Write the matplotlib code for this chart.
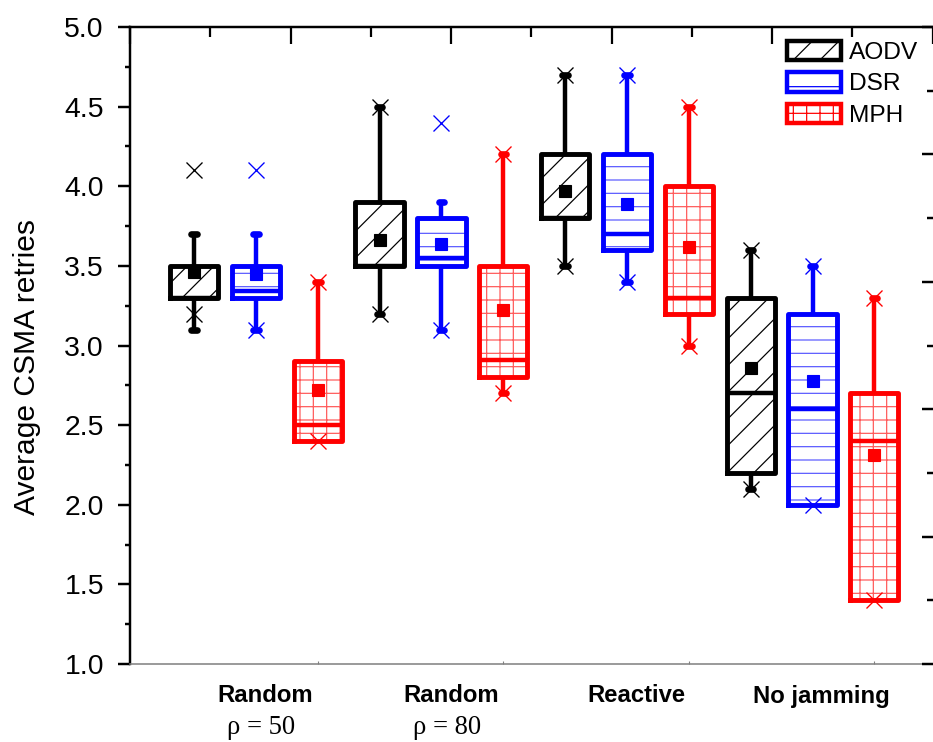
import matplotlib
matplotlib.use('Agg')
import matplotlib.pyplot as plt
from matplotlib.patches import Patch
from matplotlib.ticker import MultipleLocator, FixedLocator, NullFormatter
from matplotlib import font_manager
import matplotlib.transforms as mtransforms

# ---------------- data ----------------
groups = ['Random', 'Random', 'Reactive', 'No jamming']
group_sub = ['\u03c1 = 50', '\u03c1 = 80', '', '']
protocols = ['AODV', 'DSR', 'MPH']

# rows: AODV, DSR, MPH ; columns: the four scenarios
whis_lo = [[3.1, 3.2, 3.5, 2.1],
           [3.1, 3.1, 3.4, 2.0],
           [2.4, 2.7, 3.0, 1.4]]
whis_hi = [[3.7, 4.5, 4.7, 3.6],
           [3.7, 3.9, 4.7, 3.5],
           [3.4, 4.2, 4.5, 3.3]]
q1 = [[3.3, 3.5, 3.8, 2.2],
      [3.3, 3.5, 3.6, 2.0],
      [2.4, 2.8, 3.2, 1.4]]
q3 = [[3.5, 3.9, 4.2, 3.3],
      [3.5, 3.8, 4.2, 3.2],
      [2.9, 3.5, 4.0, 2.7]]
median = [[3.3, 3.5, 3.8, 2.7],
          [3.34, 3.55, 3.7, 2.6],
          [2.5, 2.91, 3.3, 2.4]]
mean = [[3.46, 3.66, 3.97, 2.86],
        [3.45, 3.64, 3.89, 2.78],
        [2.72, 3.22, 3.62, 2.31]]
pct_lo = [[3.2, 3.2, 3.5, 2.1],
          [3.1, 3.1, 3.4, 2.0],
          [2.4, 2.7, 3.0, 1.4]]
pct_hi = [[4.1, 4.5, 4.7, 3.6],
          [4.1, 4.4, 4.7, 3.5],
          [3.4, 4.2, 4.5, 3.3]]

# ---------------- style ----------------
colors = ['black', '#0000ff', '#ff0000']
hatch_colors = ['black', '#5a5aff', '#ff5a5a']
hatches = ['/', '-', '+']

W, H, DPI = 933, 742, 80
plt.rcParams['font.family'] = ['Liberation Sans', 'DejaVu Sans']
plt.rcParams['hatch.linewidth'] = 1.1

fig = plt.figure(figsize=(W / DPI, H / DPI), dpi=DPI)
L, R, T, B = 130, 932.5, 27, 664
ax = fig.add_axes([L / W, 1 - B / H, (R - L) / W, (B - T) / H])
ax.set_xlim(-0.036, 12.94)
ax.set_ylim(1.0, 5.0)

box_w = 0.78
for s, prot in enumerate(protocols):
    c = colors[s]
    pos = [g * 3 + s + 1 for g in range(len(groups))]
    stats = []
    for g in range(len(groups)):
        stats.append(dict(med=median[s][g], q1=q1[s][g], q3=q3[s][g],
                          whislo=whis_lo[s][g], whishi=whis_hi[s][g],
                          mean=mean[s][g], fliers=[pct_lo[s][g], pct_hi[s][g]]))
    # hatched fill
    ax.bxp(stats, positions=pos, widths=box_w, patch_artist=True,
           showmeans=False, showcaps=False, showfliers=False,
           boxprops=dict(facecolor='white', edgecolor=hatch_colors[s],
                         linewidth=0, hatch=hatches[s]),
           whiskerprops=dict(linewidth=0), medianprops=dict(linewidth=0),
           manage_ticks=False)
    # outlines, whiskers, medians, means, 1%/99% marks
    art = ax.bxp(stats, positions=pos, widths=box_w, patch_artist=False,
                 showmeans=True, showcaps=True, showfliers=True, capwidths=0.09,
                 boxprops=dict(color=c, linewidth=4.4),
                 whiskerprops=dict(color=c, linewidth=4.0, solid_capstyle='butt'),
                 capprops=dict(color=c, linewidth=6.0, solid_capstyle='round'),
                 medianprops=dict(color=c, linewidth=4.0),
                 meanprops=dict(marker='s', markerfacecolor=c, markeredgecolor=c,
                                markersize=10.5, linestyle='none'),
                 flierprops=dict(marker='x', markeredgecolor=c, markerfacecolor=c,
                                 markersize=14, markeredgewidth=1.2, linestyle='none'),
                 manage_ticks=False)
    for g in range(len(groups)):
        if whis_lo[s][g] >= q1[s][g]:
            art['caps'][2 * g].set_visible(False)
        if whis_hi[s][g] <= q3[s][g]:
            art['caps'][2 * g + 1].set_visible(False)

# ---------------- axes styling ----------------
ax.spines['right'].set_visible(False)
ax.spines['left'].set_linewidth(2.2)
ax.spines['top'].set_linewidth(2.2)
ax.spines['bottom'].set_color('#808080')
ax.spines['bottom'].set_linewidth(1.4)

ax.yaxis.set_major_locator(MultipleLocator(0.5))
ax.yaxis.set_minor_locator(MultipleLocator(0.25))
ax.tick_params(axis='y', which='major', direction='out', length=10.5, width=2.2,
               labelsize=25.5, pad=13)
ax.tick_params(axis='y', which='minor', direction='out', length=4.5, width=2.2)
ax.yaxis.set_major_formatter(matplotlib.ticker.FormatStrFormatter('%.1f'))

ax.xaxis.set_major_locator(FixedLocator([3, 6, 9, 12]))
ax.xaxis.set_major_formatter(NullFormatter())
ax.tick_params(axis='x', which='major', direction='in', length=3, width=1,
               color='#808080', top=False)

# top secondary ticks
axt = ax.twiny()
axt.set_xlim(0, 10)
axt.xaxis.set_major_locator(MultipleLocator(2))
axt.xaxis.set_minor_locator(MultipleLocator(1))
axt.tick_params(axis='x', which='both', direction='in', top=True, bottom=False,
                labeltop=False, labelbottom=False, width=2.0)
axt.tick_params(axis='x', which='major', length=15)
axt.tick_params(axis='x', which='minor', length=9)
for sp in axt.spines.values():
    sp.set_visible(False)

# right secondary ticks
axr = ax.twinx()
axr.set_ylim(0, 5)
axr.yaxis.set_major_locator(MultipleLocator(1))
axr.yaxis.set_minor_locator(MultipleLocator(0.5))
axr.tick_params(axis='y', which='both', direction='in', right=True, left=False,
                labelright=False, labelleft=False, width=2.2)
axr.tick_params(axis='y', which='major', length=10)
axr.tick_params(axis='y', which='minor', length=5)
for sp in axr.spines.values():
    sp.set_visible(False)

# y label
fig.text(27 / W, 1 - 367 / H, 'Average CSMA retries', rotation=90,
         ha='center', va='center', fontsize=27)

# category labels
names = {f.name for f in font_manager.fontManager.ttflist}
if 'Liberation Sans Narrow' in names:
    cat_font = dict(family=['Liberation Sans Narrow', 'DejaVu Sans'], fontsize=26)
else:
    cat_font = dict(family=['Liberation Sans', 'DejaVu Sans'], fontsize=21.5)
trans = mtransforms.blended_transform_factory(ax.transData, fig.transFigure)
for g, (name, sub) in enumerate(zip(groups, group_sub)):
    center = g * 3 + 2
    ax.text(center + 0.15, 1 - 696 / H, name, transform=trans, ha='center',
            va='center', fontweight='bold', **cat_font)
    if sub:
        ax.text(center + 0.09, 1 - 727 / H, sub, transform=trans, ha='center',
                va='center', family=['Liberation Serif', 'DejaVu Serif'], fontsize=24)

# legend
handles = [Patch(facecolor='white', edgecolor=colors[s], hatch=hatches[s],
                 linewidth=4.0) for s in range(len(protocols))]
leg = axr.legend(handles, protocols, loc='upper left',
                 bbox_to_anchor=(787 / W, 1 - 41 / H), bbox_transform=fig.transFigure,
                 frameon=False, borderpad=0, borderaxespad=0,
                 handlelength=2.2, handleheight=0.85, handletextpad=0.35,
                 labelspacing=0.33, fontsize=22)

fig.savefig('out.png', dpi=DPI)
